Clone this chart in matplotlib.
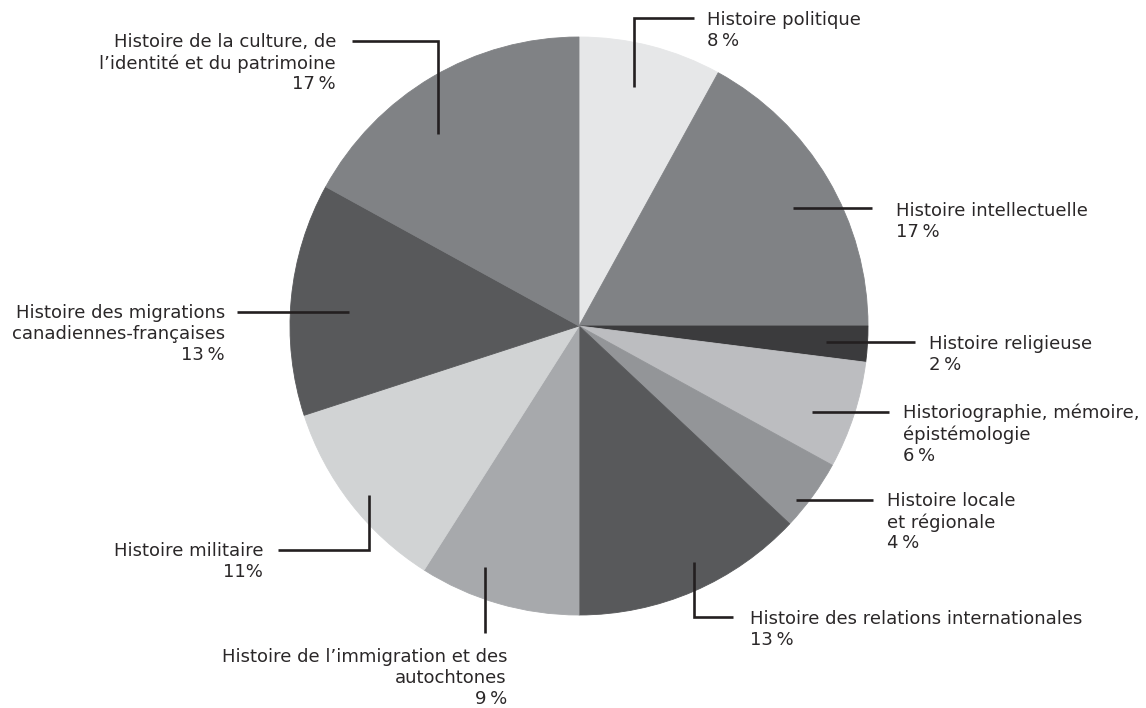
import matplotlib
matplotlib.use("Agg")
import matplotlib.pyplot as plt
import numpy as np

# Data
categories = [
    "Histoire politique",
    "Histoire intellectuelle",
    "Histoire religieuse",
    "Historiographie, mémoire,\népistémologie",
    "Histoire locale\net régionale",
    "Histoire des relations internationales",
    "Histoire de l’immigration et des\nautochtones",
    "Histoire militaire",
    "Histoire des migrations\ncanadiennes-françaises",
    "Histoire de la culture, de\nl’identité et du patrimoine",
]
values = [8, 17, 2, 6, 4, 13, 9, 11, 13, 17]
pct_labels = ["8\u2009%", "17\u2009%", "2\u2009%", "6\u2009%", "4\u2009%", "13\u2009%",
              "9\u2009%", "11%", "13\u2009%", "17\u2009%"]
colors = ["#e6e7e8", "#808285", "#3b3b3d", "#bcbdc0", "#939598",
          "#58595b", "#a7a9ac", "#d1d3d4", "#58595b", "#808285"]

W, H = 1146, 708
fig = plt.figure(figsize=(W / 100, H / 100), dpi=100)
ax = fig.add_axes([0, 0, 1, 1])

cx, cy, R = 579, 326, 289
wedges, _ = ax.pie(values, colors=colors, startangle=-90, counterclock=True,
                   center=(cx, cy), radius=R, frame=True,
                   wedgeprops=dict(linewidth=0.6))
for w, c in zip(wedges, colors):
    w.set_edgecolor(c)
ax.set_xlim(0, W)
ax.set_ylim(H, 0)
ax.set_aspect("equal")
ax.axis("off")

# Layout of leader lines (pixel coordinates): polyline points, text anchor, alignment
leaders = [
    ([(634, 87), (634, 18), (694, 18)], (707, 19), "left"),
    ([(793, 208), (872, 208)], (896, 210), "left"),
    ([(826, 342), (915, 342)], (929, 343), "left"),
    ([(812, 412), (889, 412)], (903, 412), "left"),
    ([(796, 500), (873, 500)], (887, 500), "left"),
    ([(694, 562), (694, 617), (733, 617)], (750, 618), "left"),
    ([(485, 567), (485, 633)], (507, 656), "right"),
    ([(369, 495), (369, 550), (278, 550)], (263, 550), "right"),
    ([(349, 312), (237, 312)], (225, 312), "right"),
    ([(438, 134), (438, 41), (352, 41)], (336, 41), "right"),
]

font = dict(family=["DejaVu Sans"], fontsize=13, color="#2a2728")
for (pts, (tx, ty), ha), cat, pl in zip(leaders, categories, pct_labels):
    xs, ys = zip(*pts)
    ax.plot(xs, ys, color="#231f20", lw=1.9, solid_capstyle="butt",
            solid_joinstyle="miter")
    ax.text(tx, ty - 8, cat + "\n" + pl, ha=ha, va="top", ma=ha,
            linespacing=1.21, **font)

fig.savefig("out.png", dpi=100)
